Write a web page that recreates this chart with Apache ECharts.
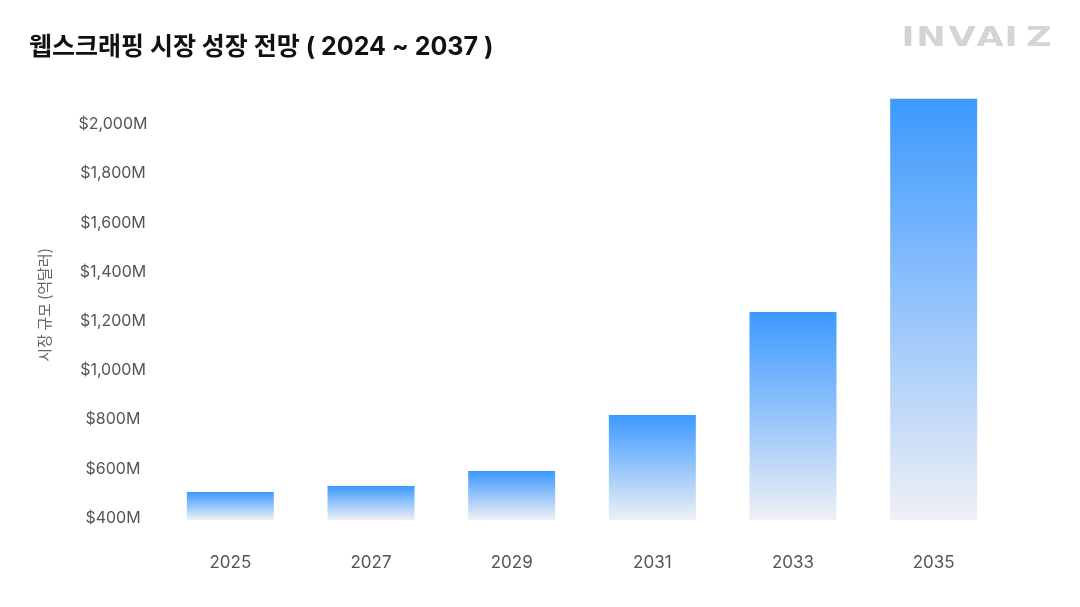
<!DOCTYPE html>
<html>
<head>
<meta charset="utf-8">
<script src="https://cdn.jsdelivr.net/npm/echarts@6/dist/echarts.min.js"></script>
<style>
html,body{margin:0;padding:0;background:#fff;}
#c{width:1080px;height:607px;}
</style>
</head>
<body>
<div id="c"></div>
<script>
const titleText = '웹스크래핑 시장 성장 전망 ( 2024 ~ 2037 )';
const yAxisName = '시장 규모 (억달러)';
const logoLetters = ['I','N','V','A','I','Z'];
const years = ['2025','2027','2029','2031','2033','2035'];
const marketSize = [505, 530, 591, 818, 1237, 2104];
const yTickValues = [400, 600, 800, 1000, 1200, 1400, 1600, 1800, 2000];

const chart = echarts.init(document.getElementById('c'));
const logoX = [908, 931, 962, 990, 1011, 1039];
const option = {
  backgroundColor: '#ffffff',
  animation: false,
  title: {
    text: titleText,
    left: 24,
    top: 30,
    textStyle: {
      fontFamily: 'Inter, "Noto Sans CJK KR", sans-serif',
      fontSize: 25,
      fontWeight: 'bold',
      color: '#111111'
    }
  },
  graphic: logoLetters.map((ch, i) => ({
    type: 'text',
    x: logoX[i],
    y: 38.5,
    scaleX: 1.3,
    style: {
      text: ch,
      fill: '#d4d4d4',
      font: '900 27px "DejaVu Sans", sans-serif',
      align: 'center',
      verticalAlign: 'middle'
    }
  })),
  grid: {
    left: 160,
    right: 76,
    top: 90,
    bottom: 87,
    containLabel: false
  },
  xAxis: {
    type: 'category',
    data: years,
    axisLine: { show: false },
    axisTick: { show: false },
    axisLabel: {
      margin: 34,
      fontSize: 17,
      color: '#555555',
      fontFamily: 'Inter, sans-serif'
    }
  },
  yAxis: {
    type: 'value',
    min: 391.5,
    max: 2140,
    name: yAxisName,
    nameLocation: 'middle',
    nameGap: 108,
    nameTextStyle: {
      fontSize: 15,
      color: '#666666',
      fontFamily: 'Noto Sans CJK KR, sans-serif'
    },
    splitLine: { show: false },
    axisLine: { show: false },
    axisTick: { show: false },
    axisLabel: {
      customValues: yTickValues,
      align: 'center',
      margin: 47,
      fontSize: 16,
      color: '#555555',
      fontFamily: 'Inter, sans-serif',
      formatter: v => '$' + v.toLocaleString('en-US') + 'M'
    }
  },
  series: [{
    type: 'bar',
    data: marketSize,
    barWidth: 87,
    itemStyle: {
      color: new echarts.graphic.LinearGradient(0, 0, 0, 1, [
        { offset: 0, color: '#3c99ff' },
        { offset: 1, color: '#eff0f5' }
      ])
    }
  }]
};
chart.setOption(option);
</script>
</body>
</html>
